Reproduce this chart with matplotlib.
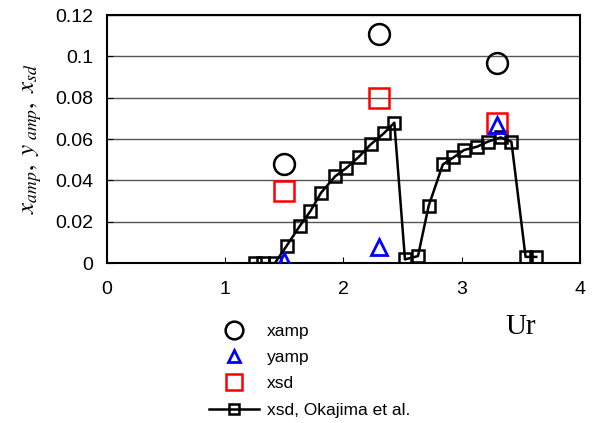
import numpy as np
import matplotlib.pyplot as plt

plt.rcParams['font.family'] = ['Liberation Sans', 'DejaVu Sans']
plt.rcParams['mathtext.fontset'] = 'stix'

# measured points at three reduced velocities
ur_meas = [1.5, 2.3, 3.3]
xamp = [0.048, 0.111, 0.097]
yamp = [0.001, 0.008, 0.067]
xsd = [0.035, 0.080, 0.068]

# Okajima et al. reference curve
ur_oka = [1.25, 1.32, 1.42, 1.52, 1.63, 1.72, 1.81, 1.93, 2.02, 2.13, 2.23, 2.34, 2.43,
          2.52, 2.63, 2.72, 2.84, 2.93, 3.02, 3.13, 3.22, 3.33, 3.42, 3.54, 3.63]
xsd_oka = [0.0, 0.0, 0.0, 0.0084, 0.0179, 0.0251, 0.034, 0.042, 0.0458, 0.0514, 0.0574, 0.0627, 0.0679,
           0.0018, 0.0034, 0.0276, 0.0477, 0.0511, 0.0547, 0.0563, 0.0587, 0.0608, 0.0587, 0.003, 0.003]

fig = plt.figure(figsize=(5.92, 4.23), dpi=100)
ax = fig.add_axes([0.1807, 0.378, 0.799, 0.5865])

ax.plot(ur_oka, xsd_oka, color='black', lw=1.8, marker='s', ms=8, mfc='none',
        mec='black', mew=1.8, label='xsd, Okajima et al.', zorder=3)
ax.plot(ur_meas, xamp, ls='none', marker='o', ms=15, mfc='none', mec='black',
        mew=1.8, label='xamp', zorder=4)
ax.plot(ur_meas, yamp, ls='none', marker='^', ms=11, mfc='none', mec='blue',
        mew=2, label='yamp', zorder=5)
ax.plot(ur_meas, xsd, ls='none', marker='s', ms=14, mfc='none', mec='red',
        mew=1.8, label='xsd', zorder=4)

ax.set_xlim(0, 4)
ax.set_ylim(0, 0.12)
ax.set_xticks([0, 1, 2, 3, 4])
ax.set_xticklabels(['0', '1', '2', '3', '4'])
ax.set_yticks(np.arange(0, 0.121, 0.02))
ax.set_yticklabels(['0', '0.02', '0.04', '0.06', '0.08', '0.1', '0.12'])
ax.tick_params(direction='in', labelsize=14, length=4)
ax.tick_params(axis='x', pad=13)
ax.tick_params(axis='y', pad=10)
ax.grid(axis='y', color='#555555', lw=1)
for s in ax.spines.values():
    s.set_linewidth(1.5)

ax.set_ylabel(r'$x_{amp},\ y_{\ amp},\ x_{sd}$', fontsize=18, labelpad=8)

handles, labels = ax.get_legend_handles_labels()
order = [1, 2, 3, 0]
fig.legend([handles[i] for i in order], [labels[i] for i in order],
           loc='upper left', bbox_to_anchor=(0.338, 0.255), frameon=False,
           fontsize=12.5, handlelength=2.9, handletextpad=0.46, labelspacing=0.64,
           markerscale=0.85, borderpad=0)

fig.text(0.853, 0.227, 'Ur', family='Liberation Serif', fontsize=21, ha='left', va='center')

fig.savefig('out.png', dpi=100)
